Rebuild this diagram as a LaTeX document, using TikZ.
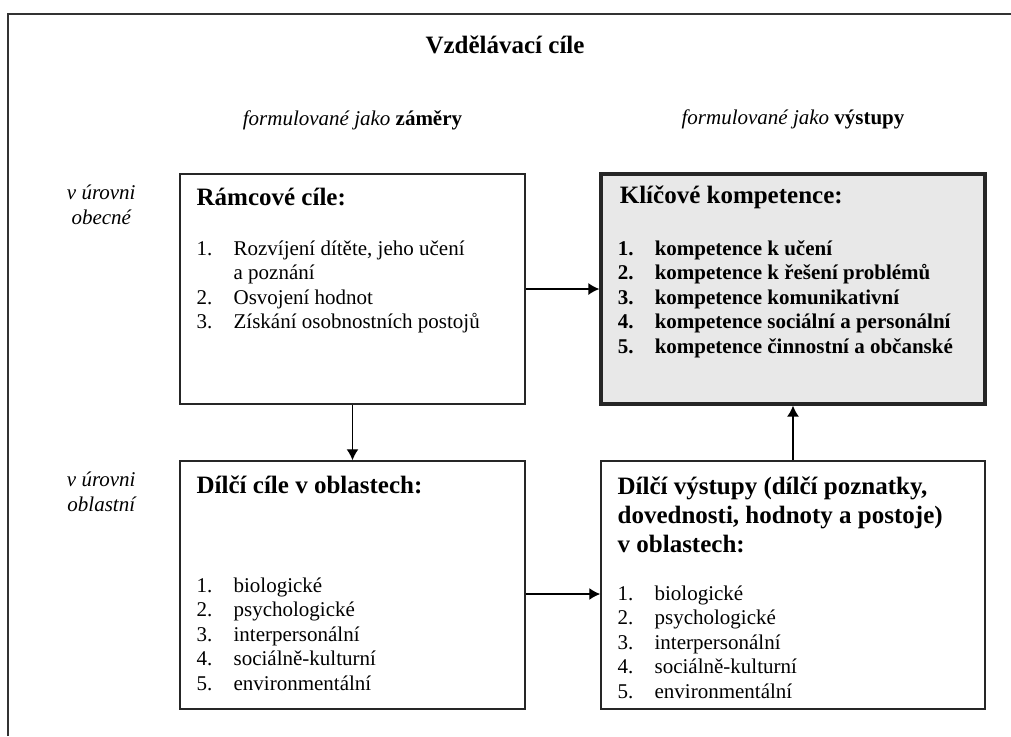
\documentclass[tikz,border=0pt]{standalone}
\usepackage{fontspec}
\setmainfont{Liberation Serif}
\usepackage{array}
\usetikzlibrary{arrows.meta,positioning}
\definecolor{keygray}{HTML}{E8E8E8}
\newcommand{\seznam}[2][]{{\fontsize{10.5}{12.25}\selectfont\begin{tabular}[t]{@{}>{#1}p{18.5pt}@{}>{#1}l@{}}#2\end{tabular}}}
\newcommand{\nadpis}[1]{{\fontsize{12.5}{14.5}\selectfont\bfseries\begin{tabular}[t]{@{}l@{}}#1\end{tabular}}}
\newcommand{\uroven}[1]{{\fontsize{10.5}{12.5}\selectfont\itshape\begin{tabular}[t]{@{}c@{}}#1\end{tabular}}}

\begin{document}
\begin{tikzpicture}[node distance=148pt, auto]
      % fixed page size, the outer frame runs off the right and bottom edge
      \useasboundingbox (0pt,0pt) rectangle (505.5pt,-368pt);
      \tikzstyle{goal} = [rectangle, draw=black!85, line width=0.75pt, inner sep=0pt, minimum width=172.5pt]
      \tikzstyle{outcome} = [goal, minimum width=192pt]
      \tikzstyle{key} = [outcome, fill=keygray, line width=1.6pt]
      \tikzstyle{txt} = [inner sep=0pt, anchor=base west]
      \tikzstyle{line} = [draw, line width=0.7pt, -{Latex[length=5.5pt, width=6pt]}]
        \draw [black!80, line width=0.75pt] (4pt,-368pt) -- (4pt,-7pt) -- (505.5pt,-7pt);
        \node [anchor=base, inner sep=0pt, font=\fontsize{12.5}{14.5}\selectfont\bfseries] (title) at (252.5pt,-26.5pt) {Vzdělávací cíle};
        \node [goal, minimum height=115pt] (ramcove) at (176.25pt,-144.5pt) {};
        \node [goal, minimum height=124pt, below of = ramcove] (dilcicile) {};
        \node [key, minimum height=115pt, right of = ramcove, node distance=220.25pt] (klicove) {};
        \node [outcome, minimum height=124pt, below of = klicove] (dilcivystupy) {};
        % column and row labels
        \node [anchor=base, inner sep=0pt, font=\fontsize{10.5}{12.5}\selectfont] (zamery) at ([yshift=24pt]ramcove.north) {\textit{formulované jako} \textbf{záměry}};
        \node [anchor=base, inner sep=0pt, font=\fontsize{10.5}{12.5}\selectfont] (vystupy) at ([yshift=24pt]klicove.north) {\textit{formulované jako} \textbf{výstupy}};
        \node [anchor=base, inner sep=0pt] (obecne) at ([xshift=-39pt, yshift=-13pt]ramcove.north west) {\uroven{v úrovni\\obecné}};
        \node [anchor=base, inner sep=0pt] (oblastni) at ([xshift=-39pt, yshift=-13pt]dilcicile.north west) {\uroven{v úrovni\\oblastní}};
        % box contents
        \node [txt] (ramcovetitle) at ([xshift=8.5pt, yshift=-16pt]ramcove.north west) {\nadpis{Rámcové cíle:}};
        \node [txt] (ramcovelist) at ([xshift=8.5pt, yshift=-41pt]ramcove.north west) {\seznam{1. & Rozvíjení dítěte, jeho učení\\ & a poznání\\ 2. & Osvojení hodnot\\ 3. & Získání osobnostních postojů}};
        \node [txt] (dilciciletitle) at ([xshift=8.5pt, yshift=-16.5pt]dilcicile.north west) {\nadpis{Dílčí cíle v oblastech:}};
        \node [txt] (dilcicilelist) at ([xshift=8.5pt, yshift=-66pt]dilcicile.north west) {\seznam{1. & biologické\\ 2. & psychologické\\ 3. & interpersonální\\ 4. & sociálně-kulturní\\ 5. & environmentální}};
        \node [txt] (klicovetitle) at ([xshift=10pt, yshift=-15.5pt]klicove.north west) {\nadpis{Klíčové kompetence:}};
        \node [txt] (klicovelist) at ([xshift=9pt, yshift=-41.5pt]klicove.north west) {\seznam[\bfseries]{1. & kompetence k učení\\ 2. & kompetence k řešení problémů\\ 3. & kompetence komunikativní\\ 4. & kompetence sociální a personální\\ 5. & kompetence činnostní a občanské}};
        \node [txt] (vystupytitle) at ([xshift=8.5pt, yshift=-17pt]dilcivystupy.north west) {\nadpis{Dílčí výstupy (dílčí poznatky,\\dovednosti, hodnoty a postoje)\\v oblastech:}};
        \node [txt] (vystupylist) at ([xshift=8.5pt, yshift=-70pt]dilcivystupy.north west) {\seznam{1. & biologické\\ 2. & psychologické\\ 3. & interpersonální\\ 4. & sociálně-kulturní\\ 5. & environmentální}};
        % arrows
        \path [line] (ramcove) -- (klicove);
        \path [line] (ramcove) -- (dilcicile);
        \path [line] (dilcivystupy) -- (klicove);
        \path [line] ([yshift=-4.5pt]dilcicile.east) -- ([yshift=-4.5pt]dilcivystupy.west);
      \end{tikzpicture}
\end{document}
